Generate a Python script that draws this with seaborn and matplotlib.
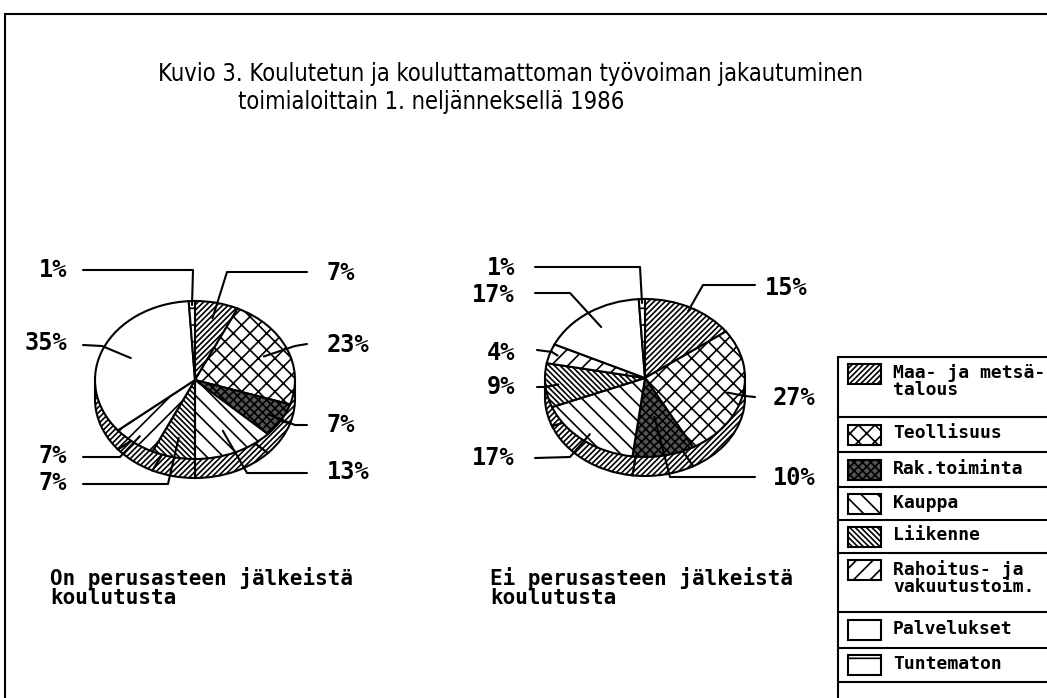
import matplotlib
matplotlib.use("Agg")
import matplotlib.pyplot as plt
from matplotlib.patches import Rectangle
import numpy as np
import seaborn as sns

# ---- data -----------------------------------------------------------------
CATEGORIES = [
    "Maa- ja metsä-\ntalous",
    "Teollisuus",
    "Rak.toiminta",
    "Kauppa",
    "Liikenne",
    "Rahoitus- ja\nvakuutustoim.",
    "Palvelukset",
    "Tuntematon",
]
TRAINED_SHARES = [7, 23, 7, 13, 7, 7, 35, 1]
UNTRAINED_SHARES = [15, 27, 10, 17, 9, 4, 17, 1]
TRAINED_LABEL = "On perusasteen jälkeistä\nkoulutusta"
UNTRAINED_LABEL = "Ei perusasteen jälkeistä\nkoulutusta"
TITLE = "Kuvio 3. Koulutetun ja kouluttamattoman työvoiman jakautuminen"
SUBTITLE = "toimialoittain 1. neljänneksellä 1986"

# ---- styles / layout (pixels, image coords) -------------------------------
W, H, DPI = 1047, 698, 100
HATCHES = ["//////", "xx", "xxxx", "\\\\", "\\\\\\\\\\\\", "//", "", "-"]
FACES = ["white", "white", "#555555", "white", "white", "white", "white", "white"]
SIDE_HATCH = "//////"
RX, RY, DEPTH = 100, 79, 19
MONO = "DejaVu Sans Mono"
TITLE_FONT = ["Liberation Sans Narrow", "DejaVu Sans"]

# text x, text y, ha, leader start x, y, knee x, y, radius fraction of end point
LEFT_LAYOUT = [
    (327, 273, "left", 307, 272, 227, 272, 0.80),
    (327, 345, "left", 307, 344, 295, 346, 0.75),
    (327, 425, "left", 307, 425, 295, 425, 0.85),
    (327, 472, "left", 307, 473, 247, 473, 0.70),
    (67, 483, "right", 83, 484, 168, 484, 0.75),
    (67, 456, "right", 83, 457, 120, 457, 0.90),
    (67, 343, "right", 83, 345, 102, 346, 0.70),
    (67, 270, "right", 83, 270, 193, 270, 0.95),
]
RIGHT_LAYOUT = [
    (765, 288, "left", 755, 285, 703, 285, 0.95),
    (773, 398, "left", 755, 397, 745, 396, 0.85),
    (773, 478, "left", 755, 477, 670, 477, 0.50),
    (515, 458, "right", 535, 458, 570, 457, 0.90),
    (515, 387, "right", 537, 387, 545, 387, 0.87),
    (515, 353, "right", 537, 350, 552, 352, 0.92),
    (515, 295, "right", 535, 293, 570, 293, 0.78),
    (515, 268, "right", 535, 267, 640, 267, 0.95),
]
LEGEND_ROWS = [357, 417, 452, 487, 520, 553, 612, 648, 682]
LEGEND_X = 838

sns.set_theme(style="white")
plt.rcParams["hatch.linewidth"] = 1.2
plt.rcParams["text.color"] = "black"

fig = plt.figure(figsize=(W / DPI, H / DPI), dpi=DPI)
fig.patch.set_facecolor("white")

ov = fig.add_axes([0, 0, 1, 1], zorder=5)
ov.set_xlim(0, W)
ov.set_ylim(H, 0)
ov.axis("off")
ov.patch.set_alpha(0)


def draw_pie(values, cx, cy, layout, caption, caption_x):
    ax = fig.add_axes([
        (cx - 1.2 * RX) / W,
        (H - (cy + 1.6 * RY)) / H,
        2.4 * RX / W,
        2.8 * RY / H,
    ])
    depth = DEPTH / RY
    ax.add_patch(Rectangle((-1, -depth), 2, depth, facecolor="white",
                           edgecolor="none", hatch=SIDE_HATCH))
    # side of the "3D" pie, then the top face
    ax.pie(values, radius=1, center=(0, -depth), startangle=90, counterclock=False,
           colors=["white"] * len(values), hatch=SIDE_HATCH,
           wedgeprops={"edgecolor": "black", "linewidth": 1.5})
    wedges, _ = ax.pie(values, radius=1, startangle=90, counterclock=False,
                       colors=FACES, hatch=HATCHES,
                       wedgeprops={"edgecolor": "black", "linewidth": 1.5})
    ax.plot([-1, -1], [0, -depth], color="black", lw=1.5)
    ax.plot([1, 1], [0, -depth], color="black", lw=1.5)
    ax.set_aspect("auto")
    ax.set_xlim(-1.2, 1.2)
    ax.set_ylim(-1.6, 1.2)
    ax.axis("off")

    to_ov = ax.transData + ov.transData.inverted()
    for val, w, (tx, ty, ha, sx, sy, kx, ky, r) in zip(values, wedges, layout):
        mid = np.deg2rad((w.theta1 + w.theta2) / 2)
        ex, ey = to_ov.transform((r * np.cos(mid), r * np.sin(mid)))
        ov.plot([sx, kx, ex], [sy, ky, ey], color="black", lw=1.5)
        ov.text(tx, ty, f"{val}%", ha=ha, va="center", family=MONO,
                weight="bold", fontsize=17)

    ov.text(caption_x, 567, caption, ha="left", va="top", family=MONO,
            weight="bold", fontsize=15, linespacing=0.95)


draw_pie(TRAINED_SHARES, 195, 380, LEFT_LAYOUT, TRAINED_LABEL, 50)
draw_pie(UNTRAINED_SHARES, 645, 378, RIGHT_LAYOUT, UNTRAINED_LABEL, 490)

# frame
ov.plot([5, W + 5], [14, 14], color="black", lw=1.5)
ov.plot([5, 5], [14, H + 5], color="black", lw=1.5)

# title
ov.text(511, 74, TITLE, ha="center", va="center", family=TITLE_FONT,
        fontstretch="condensed", fontsize=17)
ov.text(238, 102, SUBTITLE, ha="left", va="center", family=TITLE_FONT,
        fontstretch="condensed", fontsize=17)

# legend table
ov.plot([LEGEND_X, LEGEND_X], [LEGEND_ROWS[0], H + 5], color="black", lw=1.5)
for y in LEGEND_ROWS:
    ov.plot([LEGEND_X, W + 5], [y, y], color="black", lw=1.5)
for name, hatch, face, top, bot in zip(CATEGORIES, HATCHES, FACES,
                                       LEGEND_ROWS[:-1], LEGEND_ROWS[1:]):
    first = top + (17 if "\n" in name else (bot - top) / 2)
    ov.add_patch(Rectangle((848, first - 10), 33, 20, facecolor=face,
                           edgecolor="black", lw=1.5, hatch=hatch))
    ov.text(893, first - 10, name, ha="left", va="top", family=MONO,
            weight="bold", fontsize=13, linespacing=0.9)

fig.savefig("out.png", dpi=DPI, facecolor="white")
